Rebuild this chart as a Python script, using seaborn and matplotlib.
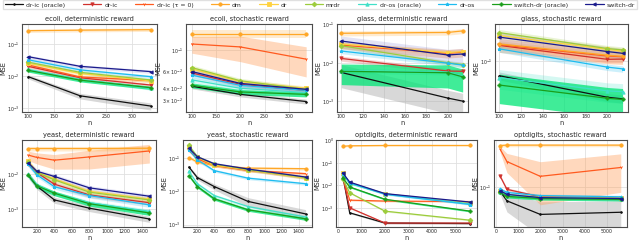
import numpy as np
import matplotlib
matplotlib.use("Agg")
import matplotlib.pyplot as plt
import seaborn as sns
from matplotlib.lines import Line2D
from matplotlib.ticker import LogLocator

sns.set_style("whitegrid")
plt.rcParams["font.family"] = ["DejaVu Sans"]
plt.rcParams["xtick.labelsize"] = 3.4
plt.rcParams["ytick.labelsize"] = 3.4
plt.rcParams["axes.edgecolor"] = "0.3"
plt.rcParams["grid.color"] = "0.88"

methods = ["dr-ic (oracle)", "dr-ic", "dr-ic (τ = 0)", "dm", "dr", "mrdr",
           "dr-os (oracle)", "dr-os", "switch-dr (oracle)", "switch-dr"]

colors = {"dr-ic (oracle)": "#111111", "dr-ic": "#d0312d", "dr-ic (τ = 0)": "#ff5a1f",
          "dm": "#ffa726", "dr": "#ffd23f", "mrdr": "#9ccc3c",
          "dr-os (oracle)": "#40e0c8", "dr-os": "#1ebcf0",
          "switch-dr (oracle)": "#1a9e1a", "switch-dr": "#1a1a8c"}
markers = {"dr-ic (oracle)": ".", "dr-ic": "v", "dr-ic (τ = 0)": "1", "dm": "o",
           "dr": "s", "mrdr": "D", "dr-os (oracle)": "^", "dr-os": "*",
           "switch-dr (oracle)": "P", "switch-dr": "<"}
band_colors = dict(colors)
band_colors["dr-ic (oracle)"] = "#aaaaaa"
band_colors["switch-dr (oracle)"] = "#00e676"
band_colors["dr-ic (τ = 0)"] = "#ff9f5a"
band_colors["switch-dr"] = "#8080d0"
band_alpha = {m: 0.22 for m in methods}
band_alpha["dr-ic (oracle)"] = 0.45
band_alpha["switch-dr (oracle)"] = 0.75
band_alpha["dr-ic (τ = 0)"] = 0.4

# ---- data (MSE) ----
ecoli_n = [100, 200, 336]
glass_n = [100, 200, 214]
yeast_n = [100, 200, 400, 800, 1484]
optdigits_n = [200, 500, 2000, 5620]

ecoli_det = {
    "dr-ic (oracle)": [0.0095, 0.0024, 0.00115],
    "dr-ic": [0.020, 0.0088, 0.0052],
    "dr-ic (τ = 0)": [0.022, 0.0093, 0.0072],
    "dm": [0.26, 0.27, 0.28],
    "dr": [0.025, 0.012, 0.0070],
    "mrdr": [0.027, 0.013, 0.0075],
    "dr-os (oracle)": [0.016, 0.0078, 0.0041],
    "dr-os": [0.032, 0.0155, 0.0095],
    "switch-dr (oracle)": [0.015, 0.0074, 0.0043],
    "switch-dr": [0.040, 0.020, 0.0137],
}
ecoli_sto = {
    "dr-ic (oracle)": [0.042, 0.0345, 0.029],
    "dr-ic": [0.058, 0.044, 0.038],
    "dr-ic (τ = 0)": [0.117, 0.109, 0.081],
    "dm": [0.15, 0.15, 0.15],
    "dr": [0.064, 0.047, 0.040],
    "mrdr": [0.066, 0.048, 0.039],
    "dr-os (oracle)": [0.049, 0.040, 0.036],
    "dr-os": [0.055, 0.043, 0.038],
    "switch-dr (oracle)": [0.043, 0.0366, 0.0345],
    "switch-dr": [0.060, 0.045, 0.039],
}
glass_det = {
    "dr-ic (oracle)": [0.0056, 0.0012, 0.0010],
    "dr-ic": [0.013, 0.0061, 0.0060],
    "dr-ic (τ = 0)": [0.029, 0.0177, 0.019],
    "dm": [0.059, 0.062, 0.068],
    "dr": [0.031, 0.0185, 0.0195],
    "mrdr": [0.028, 0.010, 0.0090],
    "dr-os (oracle)": [0.0062, 0.0057, 0.0045],
    "dr-os": [0.0203, 0.0098, 0.0087],
    "switch-dr (oracle)": [0.0060, 0.0055, 0.0043],
    "switch-dr": [0.037, 0.016, 0.017],
}
glass_sto = {
    "dr-ic (oracle)": [0.058, 0.026, 0.0245],
    "dr-ic": [0.18, 0.107, 0.108],
    "dr-ic (τ = 0)": [0.185, 0.121, 0.118],
    "dm": [0.19, 0.125, 0.12],
    "dr": [0.26, 0.155, 0.145],
    "mrdr": [0.29, 0.16, 0.152],
    "dr-os (oracle)": [0.054, 0.033, 0.032],
    "dr-os": [0.158, 0.080, 0.075],
    "switch-dr (oracle)": [0.041, 0.025, 0.024],
    "switch-dr": [0.245, 0.143, 0.134],
}
yeast_det = {
    "dr-ic (oracle)": [0.0095, 0.0045, 0.0018, 0.00104, 0.00051],
    "dr-ic": [0.020, 0.011, 0.0051, 0.0025, 0.0015],
    "dr-ic (τ = 0)": [0.035, 0.030, 0.025, 0.031, 0.046],
    "dm": [0.054, 0.054, 0.054, 0.054, 0.055],
    "dr": [0.0235, 0.0115, 0.0072, 0.0032, 0.0019],
    "mrdr": [0.022, 0.011, 0.0068, 0.0030, 0.0018],
    "dr-os (oracle)": [0.010, 0.0049, 0.0028, 0.0015, 0.00085],
    "dr-os": [0.019, 0.0095, 0.0043, 0.0024, 0.0013],
    "switch-dr (oracle)": [0.0095, 0.0046, 0.0028, 0.0014, 0.00076],
    "switch-dr": [0.021, 0.012, 0.0085, 0.0040, 0.0023],
}
yeast_sto = {
    "dr-ic (oracle)": [0.054, 0.026, 0.014, 0.005, 0.0021],
    "dr-ic": [0.19, 0.10, 0.062, 0.044, 0.026],
    "dr-ic (τ = 0)": [0.17, 0.095, 0.060, 0.043, 0.034],
    "dm": [0.104, 0.076, 0.060, 0.050, 0.048],
    "dr": [0.22, 0.105, 0.062, 0.044, 0.025],
    "mrdr": [0.24, 0.11, 0.066, 0.045, 0.026],
    "dr-os (oracle)": [0.040, 0.017, 0.0075, 0.0035, 0.0017],
    "dr-os": [0.18, 0.089, 0.042, 0.025, 0.017],
    "switch-dr (oracle)": [0.030, 0.014, 0.006, 0.0028, 0.0015],
    "switch-dr": [0.20, 0.11, 0.068, 0.047, 0.027],
}
optdigits_det = {
    "dr-ic (oracle)": [0.030, 0.0006, 0.00021, 0.00020],
    "dr-ic": [0.025, 0.0010, 0.00021, 0.00021],
    "dr-ic (τ = 0)": [0.027, 0.0022, 0.0020, 0.0019],
    "dm": [0.55, 0.58, 0.60, 0.60],
    "dr": [0.034, 0.013, 0.0042, 0.0016],
    "mrdr": [0.020, 0.0047, 0.00071, 0.00028],
    "dr-os (oracle)": [0.032, 0.012, 0.0042, 0.0015],
    "dr-os": [0.035, 0.013, 0.0040, 0.0014],
    "switch-dr (oracle)": [0.022, 0.0085, 0.0024, 0.00071],
    "switch-dr": [0.037, 0.014, 0.0043, 0.0018],
}
optdigits_sto = {
    "dr-ic (oracle)": [0.088, 0.065, 0.042, 0.045],
    "dr-ic": [0.143, 0.094, 0.074, 0.071],
    "dr-ic (τ = 0)": [0.34, 0.23, 0.143, 0.19],
    "dm": [0.385, 0.39, 0.39, 0.39],
    "dr": [0.088, 0.079, 0.073, 0.071],
    "mrdr": [0.087, 0.078, 0.072, 0.070],
    "dr-os (oracle)": [0.086, 0.077, 0.072, 0.070],
    "dr-os": [0.095, 0.085, 0.077, 0.074],
    "switch-dr (oracle)": [0.085, 0.075, 0.070, 0.068],
    "switch-dr": [0.090, 0.080, 0.072, 0.070],
}

# relative half-width of the shaded bands (default, then per-method values)
ecoli_det_spread = (0.12, {"dr-ic (oracle)": [0.15, 0.2, 0.25]})
ecoli_sto_spread = (0.06, {"dr-ic (τ = 0)": [0.2, 0.3, 0.35], "dm": [0.1, 0.1, 0.1]})
glass_det_spread = (0.15, {"dr-ic (oracle)": [0.6, 0.6, 0.6], "switch-dr (oracle)": [0.55, 0.6, 0.6],
                           "switch-dr": [0.35, 0.4, 0.4], "dr-ic (τ = 0)": [0.2, 0.25, 0.25]})
glass_sto_spread = (0.12, {"switch-dr (oracle)": [0.5, 0.5, 0.5], "dr-os (oracle)": [0.35, 0.35, 0.35],
                           "switch-dr": [0.2, 0.2, 0.2], "dr-ic (τ = 0)": [0.25, 0.25, 0.25],
                           "dr-ic (oracle)": [0.15, 0.15, 0.15]})
yeast_det_spread = (0.15, {"dr-ic (τ = 0)": [0.3, 0.35, 0.45, 0.55, 0.55],
                           "dr-ic (oracle)": [0.2, 0.2, 0.2, 0.2, 0.2]})
yeast_sto_spread = (0.1, {"dr-ic (oracle)": [0.1, 0.15, 0.2, 0.3, 0.35]})
optdigits_det_spread = (0.08, {})
optdigits_sto_spread = (0.05, {"dr-ic (τ = 0)": [0.1, 0.3, 0.6, 0.55],
                               "dr-ic (oracle)": [0.1, 0.3, 0.5, 0.45]})

panels = [
    ("ecoli, deterministic reward", ecoli_n, ecoli_det, ecoli_det_spread, (7.5e-4, 0.42), (88, 348), [100, 150, 200, 250, 300]),
    ("ecoli, stochastic reward", ecoli_n, ecoli_sto, ecoli_sto_spread, (0.0225, 0.19), (88, 348), [100, 150, 200, 250, 300]),
    ("glass, deterministic reward", glass_n, glass_det, glass_det_spread, (5.2e-4, 0.103), (96, 219), [100, 120, 140, 160, 180, 200]),
    ("glass, stochastic reward", glass_n, glass_sto, glass_sto_spread, (0.015, 0.40), (96, 219), [100, 120, 140, 160, 180, 200]),
    ("yeast, deterministic reward", yeast_n, yeast_det, yeast_det_spread, (3e-4, 0.095), (30, 1560), [200, 400, 600, 800, 1000, 1200, 1400]),
    ("yeast, stochastic reward", yeast_n, yeast_sto, yeast_sto_spread, (8.5e-4, 0.35), (30, 1560), [200, 400, 600, 800, 1000, 1200, 1400]),
    ("optdigits, deterministic reward", optdigits_n, optdigits_det, optdigits_det_spread, (1.4e-4, 1.05), (-80, 5900), [0, 1000, 2000, 3000, 4000, 5000]),
    ("optdigits, stochastic reward", optdigits_n, optdigits_sto, optdigits_sto_spread, (0.028, 0.46), (-80, 5900), [0, 1000, 2000, 3000, 4000, 5000]),
]

W, H = 640, 241
fig = plt.figure(figsize=(6.4, 2.41), dpi=100)
boxes = [(22, 157, 24, 112), (186, 312, 24, 112), (337, 468, 24, 112), (495, 628, 24, 112),
         (22, 156, 140, 227), (183, 312, 140, 227), (336, 477, 140, 227), (494, 627, 140, 227)]

for (title, n, vals, spread, ylim, xlim, xticks), (x0, x1, y0, y1) in zip(panels, boxes):
    ax = fig.add_axes([x0 / W, 1 - y1 / H, (x1 - x0) / W, (y1 - y0) / H])
    default, special = spread
    nx = np.array(n, dtype=float)
    for m in methods:
        y = np.array(vals[m])
        s = np.array(special.get(m, [default] * len(n)))
        ax.fill_between(nx, y * (1 - s), y * (1 + s), color=band_colors[m],
                        alpha=band_alpha[m], lw=0, zorder=1)
    for m in methods:
        sns.lineplot(x=nx, y=vals[m], ax=ax, color=colors[m], marker=markers[m],
                     markersize=2.4, markeredgecolor=colors[m], markeredgewidth=0.6,
                     linewidth=0.9, zorder=3)
    ax.set_yscale("log")
    ax.yaxis.set_major_locator(LogLocator(base=10, numticks=15))
    ax.set_ylim(*ylim)
    ax.set_xlim(*xlim)
    ax.set_xticks(xticks)
    ax.set_title(title, fontsize=4.8, pad=2)
    ax.set_xlabel("n", fontsize=4.8, labelpad=1)
    ax.set_ylabel("MSE", fontsize=4.8, labelpad=1)
    ax.tick_params(axis="both", which="both", pad=1.5, length=0)
    ax.grid(True, which="major", linewidth=0.6)
    for sp in ax.spines.values():
        sp.set_linewidth(0.8)

handles = [Line2D([], [], color=colors[m], marker=markers[m], markersize=2.4,
                  markeredgecolor=colors[m], markeredgewidth=0.6, linewidth=0.9)
           for m in methods]
fig.legend(handles, methods, loc="upper center", bbox_to_anchor=(0.5, 0.998),
           ncol=10, fontsize=4.4, frameon=True, handlelength=3.0,
           borderpad=0.3, handletextpad=0.5, columnspacing=2.85, borderaxespad=0,
           edgecolor="0.85", fancybox=False)

fig.savefig("out.png", dpi=100)
